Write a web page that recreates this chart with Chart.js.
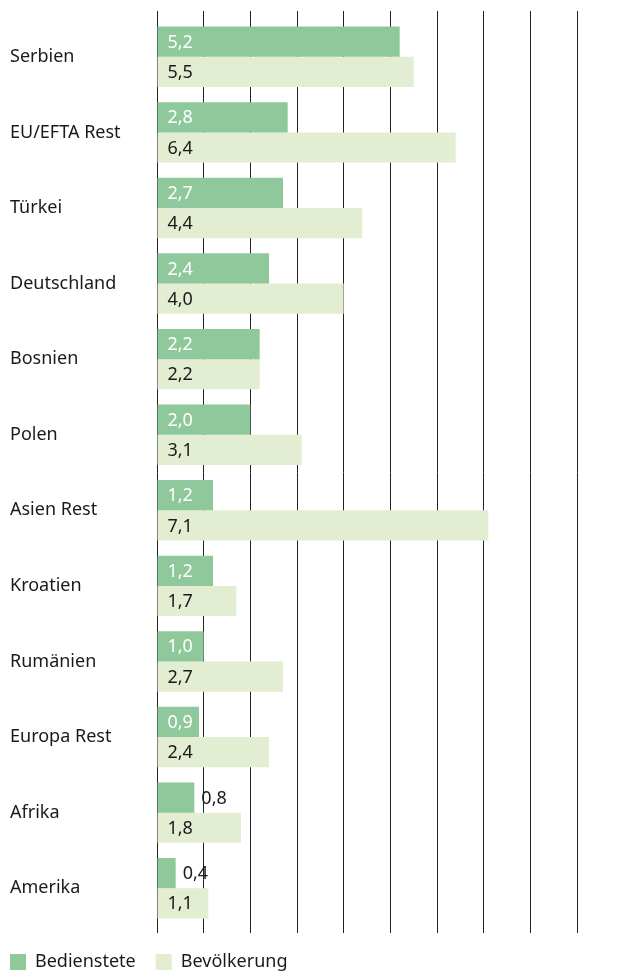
<!DOCTYPE html>
<html>
<head>
<meta charset="utf-8">
<script src="https://cdn.jsdelivr.net/npm/chart.js@4.4.1/dist/chart.umd.min.js"></script>
<style>
  html, body { margin: 0; padding: 0; background: #fff; }
  #wrap { width: 622px; height: 971px; }
</style>
</head>
<body>
<div id="wrap"><canvas id="chart"></canvas></div>
<script>
// Chart data
const categories = ['Serbien', 'EU/EFTA Rest', 'Türkei', 'Deutschland', 'Bosnien', 'Polen',
    'Asien Rest', 'Kroatien', 'Rumänien', 'Europa Rest', 'Afrika', 'Amerika'];
const bedienstete = [5.2, 2.8, 2.7, 2.4, 2.2, 2.0, 1.2, 1.2, 1.0, 0.9, 0.8, 0.4];
const bevoelkerung = [5.5, 6.4, 4.4, 4.0, 2.2, 3.1, 7.1, 1.7, 2.7, 2.4, 1.8, 1.1];
const seriesNames = ['Bedienstete', 'Bevölkerung'];

const FONT = '"Noto Sans", sans-serif';
const TEXT = '#1a1a1a';
const GRID = '#222';

const fmt = v => v.toFixed(1).replace('.', ',');

// value labels, inside the bar when it fits, otherwise just after it
const valueLabels = {
    id: 'valueLabels',
    afterDatasetsDraw(chart) {
        const ctx = chart.ctx;
        ctx.save();
        ctx.font = '18px ' + FONT;
        ctx.textBaseline = 'middle';
        ctx.textAlign = 'left';
        chart.data.datasets.forEach((ds, di) => {
            chart.getDatasetMeta(di).data.forEach((bar, i) => {
                const txt = fmt(ds.data[i]);
                const w = ctx.measureText(txt).width;
                const len = bar.x - bar.base;
                if (len >= w + 14) {
                    ctx.fillStyle = di === 0 ? '#fff' : TEXT;
                    ctx.fillText(txt, bar.base + 10, bar.y + 1);
                } else {
                    ctx.fillStyle = TEXT;
                    ctx.fillText(txt, bar.x + 7, bar.y + 1);
                }
            });
        });
        ctx.restore();
    }
};

// move the legend a bit left so it lines up with the category labels
const legendShift = {
    id: 'legendShift',
    afterLayout(chart) {
        chart.legend.left -= 20;
        chart.legend.right -= 20;
    }
};

new Chart(document.getElementById('chart'), {
    type: 'bar',
    data: {
        labels: categories,
        datasets: [{
            label: seriesNames[0],
            data: bedienstete,
            backgroundColor: '#8fc89b',
            borderWidth: 0,
            categoryPercentage: 0.8,
            barPercentage: 1
        }, {
            label: seriesNames[1],
            data: bevoelkerung,
            backgroundColor: '#e2edd1',
            borderWidth: 0,
            categoryPercentage: 0.8,
            barPercentage: 1
        }]
    },
    options: {
        indexAxis: 'y',
        responsive: true,
        maintainAspectRatio: false,
        animation: false,
        layout: { padding: { left: 10, right: 45, top: 11, bottom: -10 } },
        scales: {
            x: {
                min: 0,
                max: 9,
                ticks: { display: false, stepSize: 1 },
                grid: { color: GRID, lineWidth: 1, tickLength: 7, tickColor: GRID },
                border: { display: false }
            },
            x2: {
                position: 'top',
                min: 0,
                max: 9,
                ticks: { display: false, stepSize: 1 },
                grid: { color: GRID, lineWidth: 1, tickLength: 8, tickColor: GRID, drawOnChartArea: false },
                border: { display: false }
            },
            y: {
                ticks: {
                    crossAlign: 'far',
                    color: TEXT,
                    font: { family: FONT, size: 18 }
                },
                grid: { display: false },
                border: { display: false },
                afterFit(scale) { scale.width = 147; }
            }
        },
        plugins: {
            tooltip: { enabled: false },
            legend: {
                position: 'bottom',
                align: 'start',
                labels: {
                    boxWidth: 16,
                    boxHeight: 16,
                    padding: 20,
                    color: TEXT,
                    font: { family: FONT, size: 18 }
                }
            }
        }
    },
    plugins: [valueLabels, legendShift]
});
</script>
</body>
</html>
